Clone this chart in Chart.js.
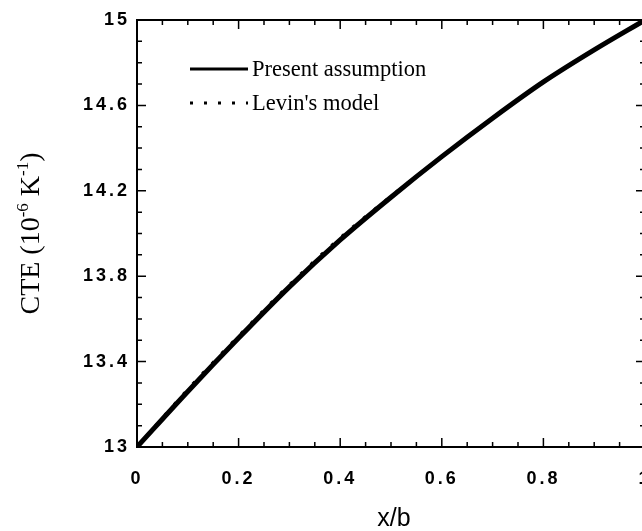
<!DOCTYPE html>
<html>
<head>
<meta charset="utf-8">
<script src="https://cdn.jsdelivr.net/npm/chart.js@4"></script>
<style>
  html, body { margin: 0; padding: 0; background: #fff; overflow: hidden; }
</style>
</head>
<body>
<canvas id="myChart" width="652" height="531"></canvas>
<script>
// values
const xValues = [0, 0.1, 0.2, 0.3, 0.4, 0.5, 0.6, 0.7, 0.8, 0.9, 1.0];
const presentValues = [13.0, 13.26, 13.51, 13.75, 13.97, 14.17, 14.36, 14.54, 14.71, 14.86, 15.0];
const levinValues = [13.0, 13.27, 13.52, 13.76, 13.98, 14.175, 14.36, 14.54, 14.71, 14.86, 15.0];
const seriesNames = ['Present assumption', "Levin's model"];
const xTicks = [0, 0.2, 0.4, 0.6, 0.8, 1];
const yTicks = [13, 13.4, 13.8, 14.2, 14.6, 15];

// wide spaced tick digits like the scan
const spacingPlugin = {
    id: 'spacing',
    beforeUpdate(chart) { chart.ctx.letterSpacing = '3px'; },
    beforeDraw(chart) { chart.ctx.letterSpacing = '3px'; }
};

// frame + inward ticks on all four sides, legend, axis titles
const framePlugin = {
    id: 'frame',
    afterDraw(chart) {
        const ctx = chart.ctx;
        const a = chart.chartArea;
        const xs = chart.scales.x, ys = chart.scales.y;
        ctx.save();
        ctx.letterSpacing = '0px';
        ctx.strokeStyle = '#000';
        ctx.fillStyle = '#000';
        ctx.lineWidth = 2;
        ctx.strokeRect(a.left, a.top, a.right - a.left, a.bottom - a.top);

        ctx.lineWidth = 1.5;
        ctx.beginPath();
        for (let i = 0; i <= 20; i++) {
            const px = xs.getPixelForValue(i * 0.05);
            const len = (i % 4 === 0) ? 9 : 5;
            ctx.moveTo(px, a.bottom); ctx.lineTo(px, a.bottom - len);
            ctx.moveTo(px, a.top); ctx.lineTo(px, a.top + len);
        }
        for (let i = 0; i <= 20; i++) {
            const py = ys.getPixelForValue(13 + i * 0.1);
            const len = (i % 4 === 0) ? 9 : 5;
            ctx.moveTo(a.left, py); ctx.lineTo(a.left + len, py);
            ctx.moveTo(a.right, py); ctx.lineTo(a.right - len, py);
        }
        ctx.stroke();

        // legend inside the plot
        const rows = [69, 103];
        chart.data.datasets.forEach((d, i) => {
            ctx.beginPath();
            ctx.lineWidth = 3;
            ctx.setLineDash(d.borderDash || []);
            ctx.moveTo(190, rows[i]);
            ctx.lineTo(248, rows[i]);
            ctx.stroke();
            ctx.setLineDash([]);
            ctx.font = '22.5px "Liberation Serif"';
            ctx.textBaseline = 'middle';
            ctx.textAlign = 'left';
            ctx.fillText(d.label, 252, rows[i] + 1);
        });

        // x title
        ctx.font = '25px "Liberation Sans"';
        ctx.textAlign = 'center';
        ctx.textBaseline = 'middle';
        ctx.fillText('x/b', 394, 519);

        // y title with raised exponents
        ctx.translate(39, (a.top + a.bottom) / 2);
        ctx.rotate(-Math.PI / 2);
        ctx.textBaseline = 'alphabetic';
        ctx.textAlign = 'left';
        const big = '28px "Liberation Serif"', small = '17px "Liberation Serif"';
        const parts = [['CTE (10', big, 0], ['-6', small, -11], [' K', big, 0], ['-1', small, -11], [')', big, 0]];
        let w = 0;
        parts.forEach(p => { ctx.font = p[1]; w += ctx.measureText(p[0]).width; });
        let x = -w / 2;
        parts.forEach(p => {
            ctx.font = p[1];
            ctx.fillText(p[0], x, p[2]);
            x += ctx.measureText(p[0]).width;
        });
        ctx.restore();
        ctx.letterSpacing = '3px';
    }
};

new Chart('myChart', {
    type: 'line',
    data: {
        datasets: [
            {
                label: seriesNames[0],
                data: xValues.map((x, i) => ({ x: x, y: presentValues[i] })),
                borderColor: '#000',
                borderWidth: 5,
                pointRadius: 0,
                cubicInterpolationMode: 'monotone',
                fill: false,
            },
            {
                label: seriesNames[1],
                data: xValues.map((x, i) => ({ x: x, y: levinValues[i] })),
                borderColor: '#000',
                borderWidth: 3,
                borderDash: [3, 11],
                pointRadius: 0,
                cubicInterpolationMode: 'monotone',
                fill: false,
            }
        ]
    },
    options: {
        responsive: false,
        animation: false,
        layout: { padding: { top: 20, right: 7, left: 0, bottom: 0 } },
        plugins: {
            legend: { display: false },
            tooltip: { enabled: false }
        },
        scales: {
            x: {
                type: 'linear',
                min: 0,
                max: 1,
                afterBuildTicks: (s) => { s.ticks = xTicks.map(v => ({ value: v })); },
                afterFit: (s) => { s.height = 84; s.paddingLeft = 0; s.paddingRight = 0; },
                grid: { display: false },
                border: { display: false },
                ticks: {
                    color: '#000',
                    padding: 13,
                    maxRotation: 0,
                    font: { family: 'Liberation Sans', size: 18, weight: 'bold' },
                    callback: (v) => String(Math.round(v * 10) / 10)
                }
            },
            y: {
                type: 'linear',
                min: 13,
                max: 15,
                afterBuildTicks: (s) => { s.ticks = yTicks.map(v => ({ value: v })); },
                afterFit: (s) => { s.width = 137; s.paddingTop = 0; s.paddingBottom = 0; },
                grid: { display: false },
                border: { display: false },
                ticks: {
                    color: '#000',
                    padding: -1,
                    font: { family: 'Liberation Sans', size: 18, weight: 'bold' },
                    callback: (v) => String(Math.round(v * 10) / 10)
                }
            }
        }
    },
    plugins: [spacingPlugin, framePlugin]
});
</script>
</body>
</html>
